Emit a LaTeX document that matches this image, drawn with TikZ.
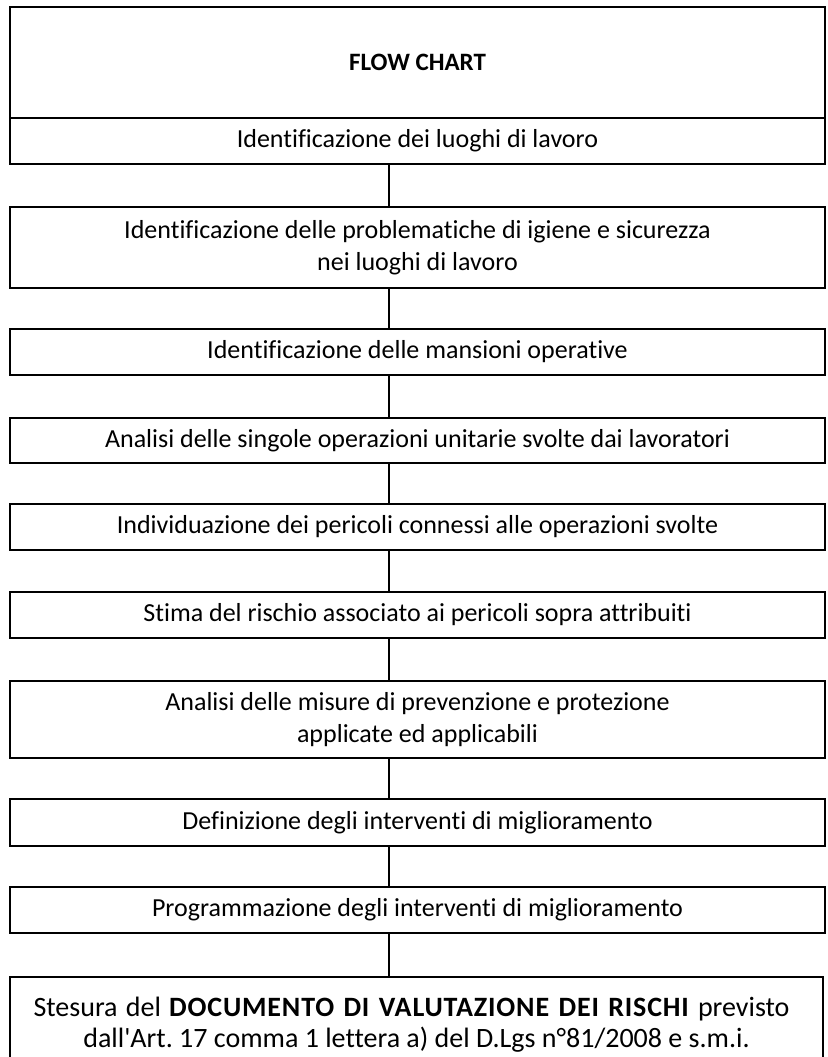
\documentclass[tikz,border=0pt]{standalone}
\usepackage{fontspec}
\newfontfamily\carl{Carlito}[Ligatures=NoCommon]
\frenchspacing
\begin{document}
\begin{tikzpicture}[x=1pt,y=-1pt,
  box/.style={draw, line width=2.8pt, minimum width=815pt, inner sep=0pt, align=center,
    font=\carl\fontsize{26}{32}\selectfont},
  conn/.style={line width=2.8pt}]
\useasboundingbox (0,0) rectangle (827,1057);
\coordinate (cx) at (389,0);
\node[box, minimum height=111pt, font=\carl\fontsize{25}{32}\selectfont] (title) at (417.5,62.5) {\textbf{FLOW CHART}};
\node[box, minimum height=46pt] (b1) at (417.5,141) {Identificazione dei luoghi di lavoro};
\node[box, minimum height=81pt] (b2) at (417.5,247.5) {Identificazione delle problematiche di igiene e sicurezza\\nei luoghi di lavoro};
\node[box, minimum height=46pt] (b3) at (417.5,352) {Identificazione delle mansioni operative};
\node[box, minimum height=45pt] (b4) at (417.5,440.5) {Analisi delle singole operazioni unitarie svolte dai lavoratori};
\node[box, minimum height=46pt] (b5) at (417.5,527) {Individuazione dei pericoli connessi alle operazioni svolte};
\node[box, minimum height=46pt] (b6) at (417.5,615) {Stima del rischio associato ai pericoli sopra attribuiti};
\node[box, minimum height=77pt] (b7) at (417.5,719.5) {Analisi delle misure di prevenzione e protezione\\applicate ed applicabili};
\node[box, minimum height=47pt] (b8) at (417.5,822.5) {Definizione degli interventi di miglioramento};
\node[box, minimum height=46pt] (b9) at (417.5,910) {Programmazione degli interventi di miglioramento};
\node[box, minimum width=813pt, minimum height=95pt, font=\carl\fontsize{28}{31}\selectfont] (b10) at (416.5,1024.5) {\hspace*{-10pt}\makebox[756pt][s]{Stesura del \textbf{\addfontfeature{LetterSpace=3}DOCUMENTO DI VALUTAZIONE DEI RISCHI} previsto}\\dall'Art. 17 comma 1 lettera a) del D.Lgs n°81/2008 e s.m.i.};
\foreach \a/\b in {b1/b2,b2/b3,b3/b4,b4/b5,b5/b6,b6/b7,b7/b8,b8/b9,b9/b10}
  \draw[conn] (\a.south -| cx) -- (\b.north -| cx);
\end{tikzpicture}
\end{document}
